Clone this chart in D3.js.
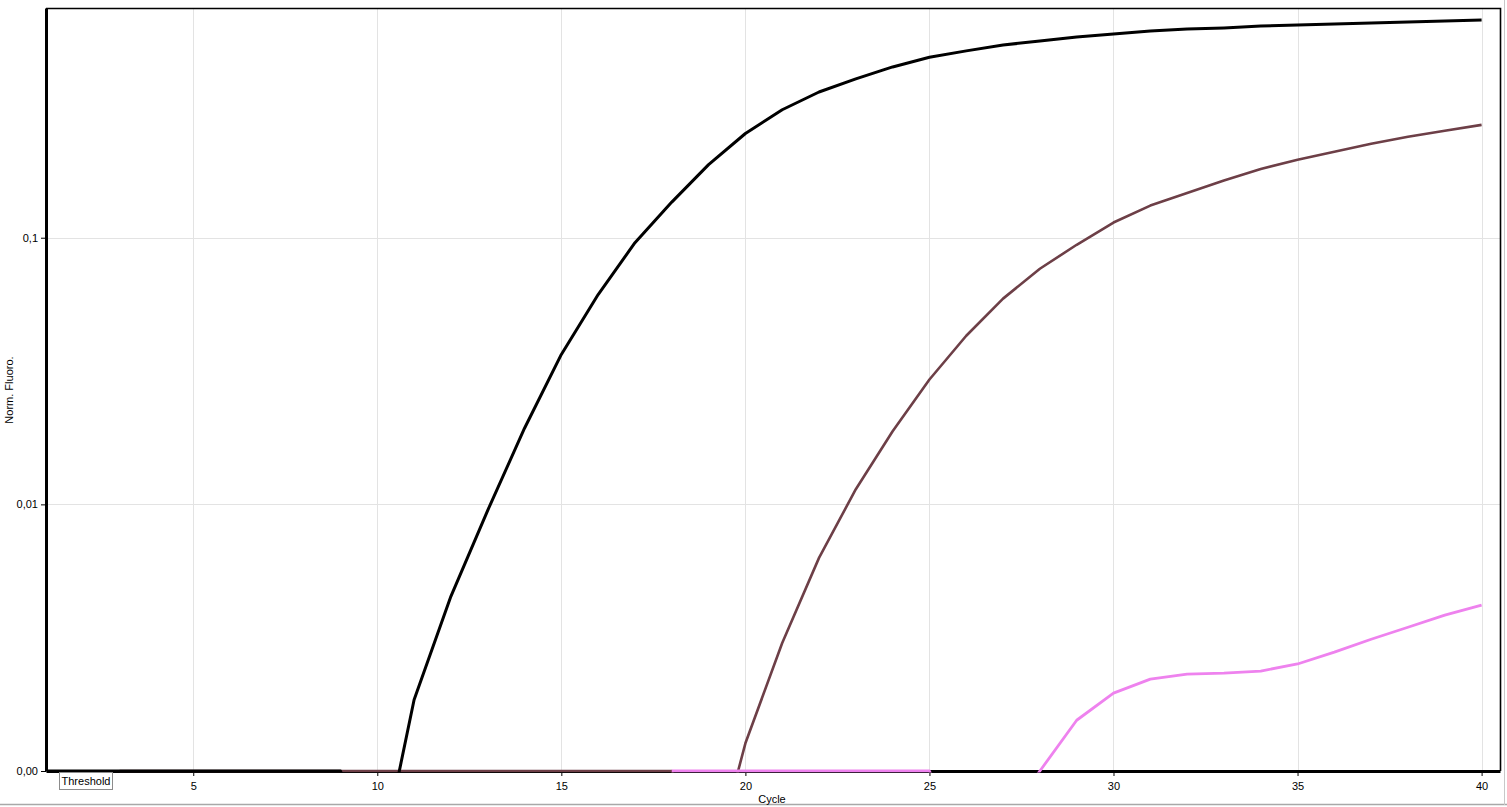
<!DOCTYPE html>
<html>
<head>
<meta charset="utf-8">
<script src="https://cdn.jsdelivr.net/npm/d3@7"></script>
<style>
  body { margin: 0; background: #fff; }
  svg { display: block; font-family: "Liberation Sans", Arial, sans-serif; }
  .tick text { font-size: 11px; fill: #000; }
</style>
</head>
<body>
<svg id="chart"></svg>
<script>
// cycle numbers 1..40
const cycles = d3.range(1, 41);

// normalised fluorescence per cycle (null = not drawn)
const blackValues = [
  0.001, 0.001, 0.001, 0.001, 0.001, 0.001, 0.001, 0.001, 0.001, 0.0004,
  0.00185, 0.00452, 0.0095, 0.0193, 0.0365, 0.0612, 0.0958, 0.136, 0.188, 0.246,
  0.302, 0.352, 0.394, 0.437, 0.475, 0.502, 0.528, 0.547, 0.566, 0.581,
  0.596, 0.606, 0.612, 0.622, 0.628, 0.633, 0.639, 0.644, 0.650, 0.655
];
const brownValues = [
  null, null, 0.001, 0.001, 0.001, 0.001, 0.001, 0.001, 0.001, 0.001,
  0.001, 0.001, 0.001, 0.001, 0.001, 0.001, 0.001, 0.001, 0.00038, 0.00127,
  0.00302, 0.0063, 0.0114, 0.0188, 0.0294, 0.0429, 0.0591, 0.0765, 0.0941, 0.114,
  0.132, 0.147, 0.164, 0.181, 0.196, 0.210, 0.225, 0.239, 0.252, 0.265
];
const pinkValues = [
  null, null, null, null, null, null, null, null, null, null,
  null, null, null, null, null, null, null, 0.001, 0.001, 0.001,
  0.001, 0.001, 0.001, 0.001, 0.001, 0.0005, 0.00064, 0.001, 0.00155, 0.00196,
  0.00221, 0.00231, 0.00233, 0.00237, 0.00252, 0.00279, 0.00312, 0.00346, 0.00384, 0.00419
];

const xTicks = [5, 10, 15, 20, 25, 30, 35, 40];
const yTicks = [0.001, 0.01, 0.1];
const yTickLabels = ["0,00", "0,01", "0,1"];

const series = [
  { name: "brown", values: brownValues, color: "#6d3f47", width: 2.6 },
  { name: "pink", values: pinkValues, color: "#ee82ee", width: 2.8 },
  { name: "black", values: blackValues, color: "#000000", width: 3 },
];

const width = 1507, height = 807;
const margin = { top: 8, right: 7, bottom: 36, left: 46 };

const svg = d3.select("#chart").attr("width", width).attr("height", height);

const x = d3.scaleLinear().domain([1, 40.5]).range([margin.left, width - margin.right]);
const y = d3.scaleLog().domain([0.001, 0.727]).range([height - margin.bottom, margin.top]);

// outer window edges
svg.append("line").attr("x1", 0).attr("x2", width).attr("y1", 804.5).attr("y2", 804.5)
  .attr("stroke", "#a8a8a8").attr("stroke-width", 1.5);
svg.append("line").attr("x1", 1504.5).attr("x2", 1504.5).attr("y1", 0).attr("y2", 805)
  .attr("stroke", "#c8c8c8").attr("stroke-width", 1);

// grid
const grid = svg.append("g").attr("stroke", "#e3e3e3").attr("stroke-width", 1);
grid.selectAll(".vx").data(xTicks).join("line")
  .attr("x1", d => Math.round(x(d)) + 0.5).attr("x2", d => Math.round(x(d)) + 0.5)
  .attr("y1", margin.top).attr("y2", y(0.001));
grid.selectAll(".hy").data(yTicks.slice(1)).join("line")
  .attr("x1", margin.left).attr("x2", width - margin.right)
  .attr("y1", d => Math.round(y(d)) + 0.5).attr("y2", d => Math.round(y(d)) + 0.5);

// frame top/right
svg.append("path")
  .attr("d", `M${margin.left},${margin.top + 0.5}H${width - margin.right + 0.5}V${y(0.001)}`)
  .attr("fill", "none").attr("stroke", "#000").attr("stroke-width", 1.6);

// axes
const xAxis = svg.append("g")
  .attr("transform", `translate(0,${y(0.001)})`)
  .call(d3.axisBottom(x).tickValues(xTicks).tickSize(5).tickPadding(6).tickSizeOuter(0));
xAxis.select(".domain").attr("stroke-width", 3);
xAxis.selectAll(".tick line").attr("stroke", "#000");

const yAxis = svg.append("g")
  .attr("transform", `translate(${margin.left},0)`)
  .call(d3.axisLeft(y).tickValues(yTicks).tickFormat((d, i) => yTickLabels[i])
    .tickSize(5).tickPadding(3).tickSizeOuter(0));
yAxis.select(".domain").attr("stroke-width", 3);

// clip so sub-threshold parts disappear under the axis
svg.append("clipPath").attr("id", "plot-clip")
  .append("rect")
  .attr("x", margin.left + 2).attr("y", margin.top)
  .attr("width", width - margin.right - margin.left - 2)
  .attr("height", y(0.001) - margin.top + 1.5);

const line = d3.line()
  .defined(d => d.v !== null)
  .x(d => x(d.c))
  .y(d => y(d.v));

svg.append("g").attr("clip-path", "url(#plot-clip)")
  .selectAll("path").data(series).join("path")
  .attr("fill", "none")
  .attr("stroke", d => d.color)
  .attr("stroke-width", d => d.width)
  .attr("stroke-linejoin", "round")
  .attr("d", d => line(cycles.map((c, i) => ({ c: c, v: d.values[i] }))));

// axis titles
svg.append("text").attr("x", 772).attr("y", 803).attr("text-anchor", "middle")
  .attr("font-size", 11).text("Cycle");
svg.append("text").attr("transform", "translate(13,390) rotate(-90)")
  .attr("text-anchor", "middle").attr("font-size", 11).text("Norm. Fluoro.");

// threshold button
const th = svg.append("g").attr("transform", "translate(59,772)");
th.append("rect").attr("x", 0.5).attr("y", 0.5).attr("width", 53).attr("height", 17)
  .attr("fill", "#fff").attr("stroke", "#8c8c8c");
th.append("text").attr("x", 27).attr("y", 13).attr("text-anchor", "middle")
  .attr("font-size", 11).text("Threshold");
</script>
</body>
</html>
